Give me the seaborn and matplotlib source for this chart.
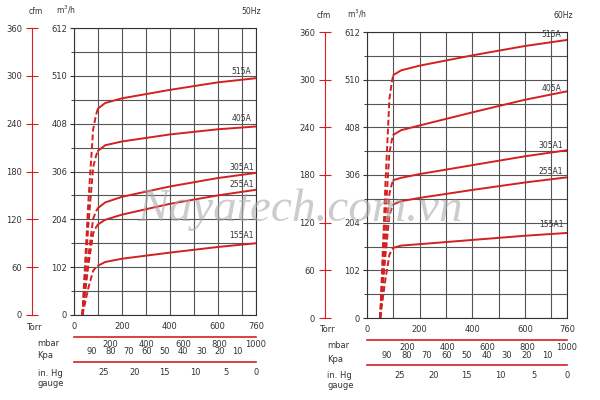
import matplotlib
matplotlib.use("Agg")
import matplotlib.pyplot as plt
import seaborn as sns
import pandas as pd

sns.set_style("white")
plt.rcParams['font.family'] = ['DejaVu Sans']

models = ["515A", "405A", "305A1", "255A1", "155A1"]
dash_torr_50 = [35, 60, 80, 92, 100]
dash_torr_60 = [50, 70, 85, 94, 100]
dash_frac = [0.0, 0.55, 0.9, 0.97, 1.0]
solid_torr = [100, 130, 200, 400, 600, 760]
flow_50 = {
    "515A": [440, 452, 462, 480, 496, 505],
    "405A": [350, 362, 370, 385, 396, 402],
    "305A1": [228, 240, 252, 274, 292, 303],
    "255A1": [193, 203, 214, 237, 255, 267],
    "155A1": [105, 113, 120, 133, 145, 153],
}
flow_60 = {
    "515A": [520, 530, 540, 562, 582, 595],
    "405A": [392, 402, 412, 440, 467, 485],
    "305A1": [295, 300, 308, 327, 346, 359],
    "255A1": [243, 250, 257, 274, 290, 301],
    "155A1": [150, 155, 158, 167, 176, 182],
}
m3h_ticks = [0, 102, 204, 306, 408, 510, 612]
cfm_ticks = [0, 60, 120, 180, 240, 300, 360]
torr_ticks = [0, 200, 400, 600, 760]
mbar_labels = [200, 400, 600, 800, 1000]
kpa_labels = [90, 80, 70, 60, 50, 40, 30, 20, 10]
inhg_labels = [25, 20, 15, 10, 5, 0]

RED = "#d42020"
TXT = "#333333"
W, H = 600, 400
fig = plt.figure(figsize=(6, 4), dpi=100)


def box(x0, y0, x1, y1):
    return [x0 / W, 1 - y1 / H, (x1 - x0) / W, (y1 - y0) / H]


def strip(ax):
    ax.set_yticks([])
    for k in ["top", "right", "left"]:
        ax.spines[k].set_visible(False)
    ax.spines["bottom"].set_color(RED)
    ax.spines["bottom"].set_linewidth(1.2)
    ax.set_facecolor("none")


def panel(x0, y0, x1, y1, flows, dash_torr, hz):
    ax = fig.add_axes(box(x0, y0, x1, y1))
    for m in models:
        v = flows[m]
        d = pd.DataFrame({"torr": dash_torr, "flow": [f * v[0] for f in dash_frac]})
        s = pd.DataFrame({"torr": solid_torr, "flow": v})
        sns.lineplot(data=d, x="torr", y="flow", ax=ax, color=RED, lw=1.4,
                     linestyle=(0, (3, 1.5)), sort=False)
        sns.lineplot(data=s, x="torr", y="flow", ax=ax, color=RED, lw=1.4, sort=False)
        ax.text(700, v[-2] + 14, m, fontsize=5.5, ha="center", va="bottom", color=TXT)
    ax.set_xlim(0, 760)
    ax.set_ylim(0, 612)
    ax.set_xticks(list(range(0, 800, 100)) + [760], minor=True)
    ax.set_xticks(torr_ticks)
    ax.set_yticks(list(range(0, 613, 51)), minor=True)
    ax.set_yticks(m3h_ticks)
    ax.grid(True, which="both", color="#555", lw=0.8)
    ax.tick_params(labelsize=6, length=3, color=TXT, labelcolor=TXT, pad=2)
    ax.set_xlabel(""); ax.set_ylabel("")
    for sp in ax.spines.values():
        sp.set_color(TXT)
    ax.text(x0 - 48, H - (y1 + 12), "Torr", transform=None, fontsize=6, va="center", color=TXT)
    # cfm axis
    ax2 = ax.twinx()
    ax2.set_ylim(0, 360)
    ax2.set_yticks(cfm_ticks)
    ax2.yaxis.set_ticks_position("left")
    for k in ["top", "right", "bottom"]:
        ax2.spines[k].set_visible(False)
    ax2.spines["left"].set_position(("outward", 30))
    ax2.spines["left"].set_color(RED)
    ax2.tick_params(axis="y", colors=RED, labelcolor=TXT, labelsize=6, direction="inout", length=8)
    ax2.grid(False)
    ax.text(-0.25, 1.05, "cfm", transform=ax.transAxes, fontsize=5.5, color=TXT)
    ax.text(-0.1, 1.05, "m$^3$/h", transform=ax.transAxes, fontsize=5.5, color=TXT)
    ax.text(1.03, 1.05, hz, transform=ax.transAxes, fontsize=5.5, ha="right", color=TXT)
    # mbar axis (10 px tall, line at bottom)
    ly = y1 + 22
    axm = fig.add_axes(box(x0, ly - 10, x1, ly))
    axm.set_xlim(0, 1000)
    axm.set_xticks(range(0, 1001, 100), minor=True)
    axm.set_xticks(mbar_labels)
    strip(axm)
    axm.tick_params(axis="x", which="both", colors=RED, labelcolor=TXT, labelsize=6,
                    direction="inout", length=5, pad=0)
    axm.text(-0.2, -0.6, "mbar", transform=axm.transAxes, fontsize=6, va="center", color=TXT)
    axm.text(-0.2, -1.9, "Kpa", transform=axm.transAxes, fontsize=6, va="center", color=TXT)
    for k in kpa_labels:
        axm.text((100 - k) * 10, -1.5, str(k), transform=axm.get_xaxis_transform(),
                 fontsize=6, ha="center", va="center", color=TXT)
    # in Hg axis
    hy = y1 + 47
    axh = fig.add_axes(box(x0, hy - 10, x1, hy))
    axh.set_xlim(29.92, 0)
    axh.set_xticks(range(0, 30), minor=True)
    axh.set_xticks(inhg_labels)
    strip(axh)
    axh.tick_params(axis="x", which="both", colors=RED, labelcolor=TXT, labelsize=6,
                    direction="in", length=4, pad=4)
    axh.tick_params(axis="x", which="major", length=6)
    axh.text(-0.2, -1.1, "in. Hg", transform=axh.transAxes, fontsize=6, va="center", color=TXT)
    axh.text(-0.2, -2.1, "gauge", transform=axh.transAxes, fontsize=6, va="center", color=TXT)
    return ax


panel(74, 28, 256, 315, flow_50, dash_torr_50, "50Hz")
panel(367, 32, 567, 318, flow_60, dash_torr_60, "60Hz")

fig.text(0.5, 0.475, "Nayatech.com.vn", fontsize=34, style="italic",
         family="Liberation Serif", color="#aaaaaa", alpha=0.6, ha="center", va="center")
fig.savefig("out.png", dpi=100, facecolor="white")
